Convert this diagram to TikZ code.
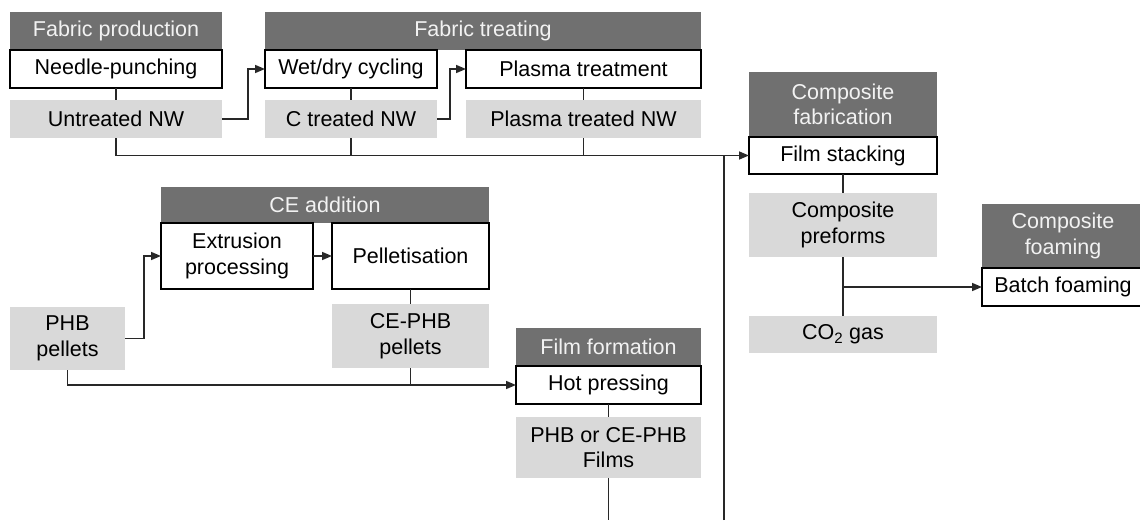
\documentclass[tikz,border=0pt]{standalone}
\usepackage{fontspec}
\setmainfont{Liberation Sans}
\usetikzlibrary{arrows.meta}
\definecolor{hdrgray}{RGB}{112,112,112}
\definecolor{lightbox}{RGB}{217,217,217}
\definecolor{hdrtext}{RGB}{242,242,242}
\definecolor{linecol}{RGB}{40,40,40}
\begin{document}
\begin{tikzpicture}[x=1pt,y=-1pt,
  font=\fontsize{21.5}{25.5}\selectfont,
  base/.style={rectangle,inner sep=0pt,align=center,outer sep=0pt},
  header/.style={base,fill=hdrgray,text=hdrtext},
  stepbox/.style={base,fill=white,draw=black,line width=1.3pt},
  product/.style={base,fill=lightbox},
  link/.style={draw=linecol,line width=1.6pt},
  flow/.style={link,-{Triangle[length=10pt,width=8pt]}}
]
\useasboundingbox (0,0) rectangle (1140,520);
\clip (0,0) rectangle (1140,520);

% Fabric production
\node[header,minimum width=212pt,minimum height=38pt] (hdrFP) at (116,31) {Fabric production};
\node[stepbox,minimum width=212pt,minimum height=38pt] (needle) at (116,69) {Needle-punching};
\node[product,minimum width=212pt,minimum height=38pt] (untreated) at (116,119) {Untreated NW};

% Fabric treating
\node[header,minimum width=436pt,minimum height=38pt] (hdrFT) at (483,31) {Fabric treating};
\node[stepbox,minimum width=172pt,minimum height=38pt] (wetdry) at (351,69) {Wet/dry cycling};
\node[stepbox,minimum width=235pt,minimum height=38pt] (plasma) at (583.5,69) {Plasma treatment};
\node[product,minimum width=172pt,minimum height=38pt] (ctreated) at (351,119) {C treated NW};
\node[product,minimum width=235pt,minimum height=38pt] (ptreated) at (583.5,119) {Plasma treated NW};

% Composite fabrication
\node[header,minimum width=188pt,minimum height=65pt] (hdrCF) at (843,104.5) {Composite\\fabrication};
\node[stepbox,minimum width=188pt,minimum height=37pt] (stack) at (843,155.5) {Film stacking};
\node[product,minimum width=188pt,minimum height=64pt] (preforms) at (843,225) {Composite\\preforms};
\node[product,minimum width=188pt,minimum height=37pt] (co2) at (843,334.5) {CO\textsubscript{2} gas};

% Composite foaming
\node[header,minimum width=162pt,minimum height=64pt] (hdrFoam) at (1063,236) {Composite\\foaming};
\node[stepbox,minimum width=162pt,minimum height=38pt] (batch) at (1063,287) {Batch foaming};

% CE addition
\node[header,minimum width=328pt,minimum height=36pt] (hdrCE) at (325,205) {CE addition};
\node[stepbox,minimum width=152pt,minimum height=66pt] (extrusion) at (237,256) {Extrusion\\processing};
\node[stepbox,minimum width=157pt,minimum height=66pt] (pellet) at (410.5,256) {Pelletisation};
\node[product,minimum width=115pt,minimum height=63pt] (phb) at (67.5,338.5) {PHB\\pellets};
\node[product,minimum width=157pt,minimum height=64pt] (cephb) at (410.5,336) {CE-PHB\\pellets};

% Film formation
\node[header,minimum width=185pt,minimum height=38pt] (hdrFF) at (608.5,347) {Film formation};
\node[stepbox,minimum width=185pt,minimum height=38pt] (hot) at (608.5,385) {Hot pressing};
\node[product,minimum width=185pt,minimum height=61pt] (films) at (608.5,447.5) {PHB or CE-PHB\\Films};

% lines running on below the lower edge
\coordinate (feedA) at (724,520);
\coordinate (feedB) at (films.south |- feedA);

% fabric route
\draw[link] (needle.south) -- (untreated.north);
\draw[flow] (untreated.east) -- ++(26,0) |- (wetdry.west);
\draw[link] (wetdry.south) -- (ctreated.north);
\draw[flow] (ctreated.east) -- ++(13,0) |- (plasma.west);
\draw[link] (plasma.south) -- (ptreated.north);
\draw[flow] (untreated.south) |- (stack.west);
\draw[link] (ctreated.south) -- (ctreated.south |- stack.west);
\draw[link] (ptreated.south) -- (ptreated.south |- stack.west);
\draw[link] (feedA) -- (feedA |- stack.west);

% composite route
\draw[link] (stack.south) -- (preforms.north);
\draw[link] (preforms.south) -- (co2.north);
\draw[flow] (preforms.south |- batch.west) -- (batch.west);

% matrix route
\draw[flow] (extrusion.east) -- (pellet.west);
\draw[flow] (phb.east) -- ++(19,0) |- (extrusion.west);
\draw[link] (pellet.south) -- (cephb.north);
\draw[flow] (phb.south) |- (hot.west);
\draw[link] (cephb.south) -- (cephb.south |- hot.west);
\draw[link] (hot.south) -- (films.north);
\draw[link] (films.south) -- (feedB);
\end{tikzpicture}
\end{document}
